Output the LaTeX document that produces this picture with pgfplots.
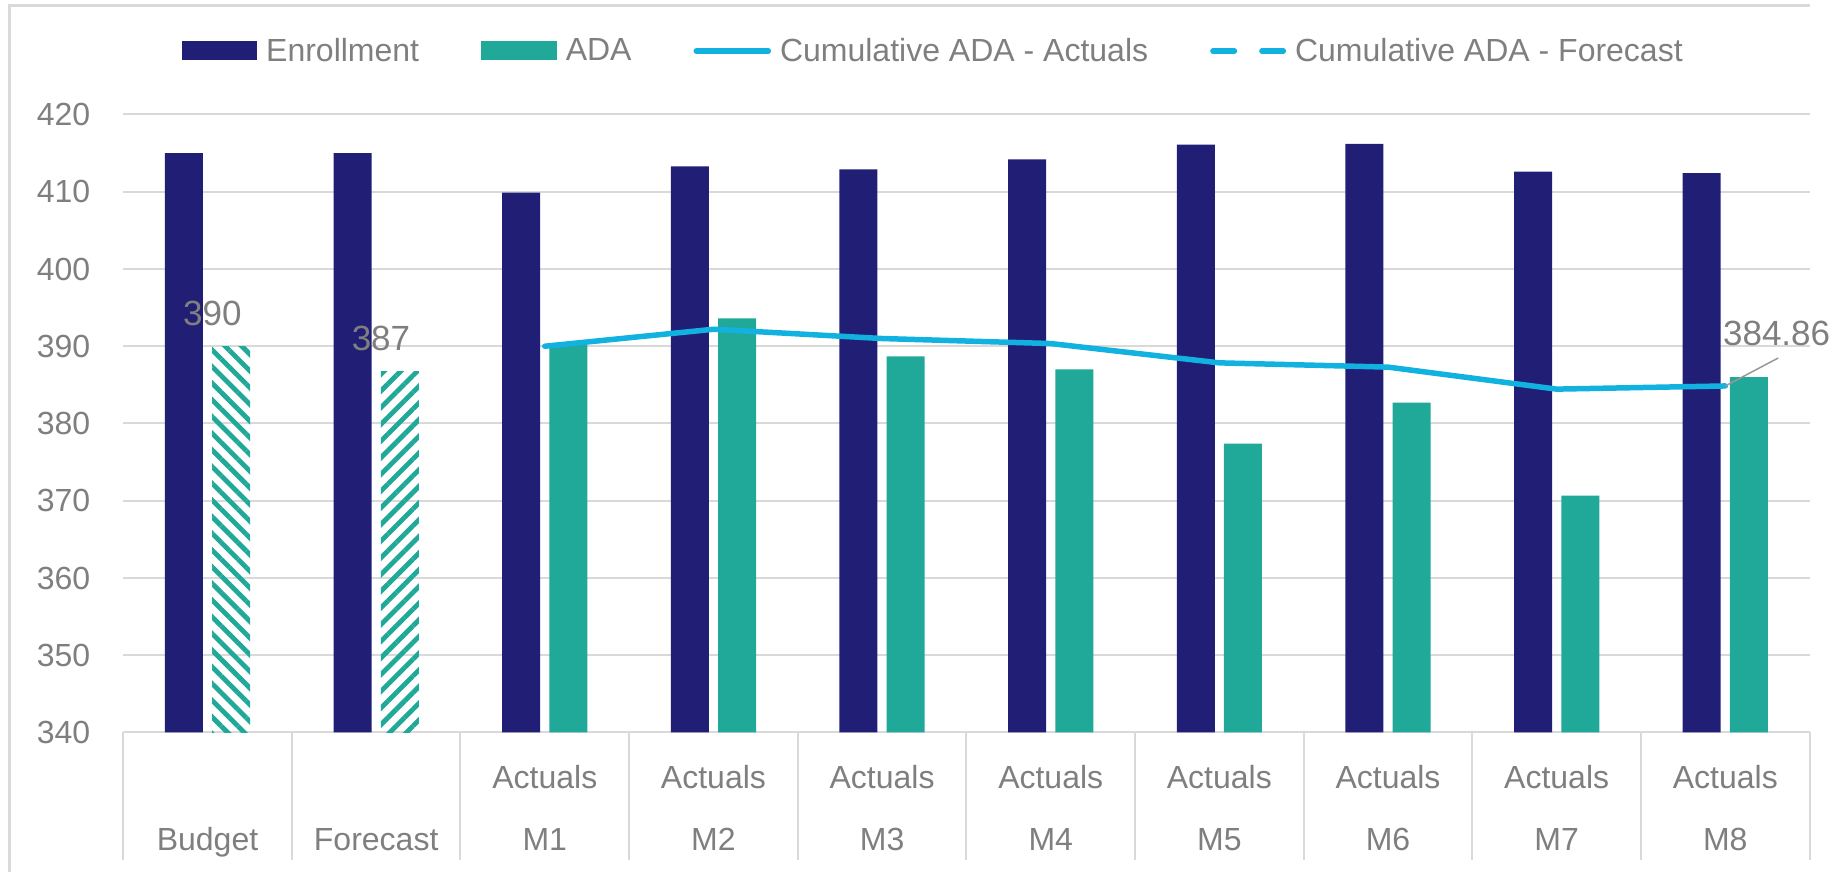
\documentclass[border=0pt]{standalone}
\usepackage{fontspec}
\setmainfont{Liberation Sans}
\usepackage{pgfplots}
\pgfplotsset{compat=1.18}
\usetikzlibrary{patterns.meta}

\definecolor{enrnavy}{HTML}{211F75}
\definecolor{adateal}{HTML}{20A898}
\definecolor{cumblue}{HTML}{12B2E0}
\definecolor{gridgray}{HTML}{D9D9D9}
\definecolor{txtgray}{HTML}{7F7F7F}

\begin{document}
\begin{tikzpicture}[font=\fontsize{16}{19}\selectfont]
\useasboundingbox (-61.6pt,-69.75pt) rectangle (854.4pt,366.25pt);
% chart frame
\draw[gridgray, line width=1.5pt] (-56.6pt,-80pt) -- (-56.6pt,363.25pt) -- (843.4pt,363.25pt);
\begin{axis}[
  at={(0pt,0pt)}, anchor=south west,
  scale only axis, width=843.2pt, height=309pt,
  xmin=-0.5, xmax=9.5, ymin=340, ymax=420,
  ytick={340,350,...,420},
  ymajorgrids, major grid style={gridgray, line width=1pt},
  axis line style={draw=none},
  ytick style={draw=none},
  major tick length=0pt,
  xtick={0,...,9}, xtick pos=left,
  xticklabels={{\strut\\Budget},{\strut\\Forecast},{\strut Actuals\\M1},{\strut Actuals\\M2},{\strut Actuals\\M3},{\strut Actuals\\M4},{\strut Actuals\\M5},{\strut Actuals\\M6},{\strut Actuals\\M7},{\strut Actuals\\M8}},
  xticklabel style={align=center, anchor=north, inner sep=0pt, yshift=-6.05pt,
    font=\fontsize{16}{31}\selectfont, text=txtgray},
  yticklabel style={anchor=east, inner sep=0pt, xshift=-16.25pt, text=txtgray},
  /pgf/number format/assume math mode=true,
  extra x ticks={-0.5,0.5,...,9.5},
  extra x tick style={major tick length=63.75pt, tick align=outside, xticklabel={},
    major tick style={draw=gridgray, line width=1pt}},
  clip mode=individual,
  legend columns=4,
  legend style={at={(0.4797,1)}, anchor=center, yshift=31.75pt, draw=none, fill=none,
    inner sep=0pt, outer sep=0pt, font=\fontsize{16}{19}\selectfont, text=txtgray,
    nodes={inner sep=0pt, text=txtgray},
    /tikz/every odd column/.append style={column sep=4.5pt},
    /tikz/every even column/.append style={column sep=31pt}},
]
% Enrollment
\addplot[ybar, bar width=19pt, bar shift=-11.8pt, fill=enrnavy, draw=none,
  legend image code/.code={\fill[enrnavy] (0pt,-4.75pt) rectangle (37.8pt,4.75pt);}]
  coordinates {(0,415.0) (1,415.0) (2,409.9) (3,413.3) (4,412.9) (5,414.2) (6,416.1) (7,416.2) (8,412.6) (9,412.4)};
\addlegendentry{Enrollment}
% ADA actuals
\addplot[ybar, bar width=19pt, bar shift=11.8pt, fill=adateal, draw=none,
  legend image code/.code={\fill[adateal] (0pt,-4.75pt) rectangle (37.8pt,4.75pt);}]
  coordinates {(2,390.2) (3,393.6) (4,388.7) (5,387.0) (6,377.4) (7,382.7) (8,370.65) (9,386.0)};
\addlegendentry{ADA}
% ADA budget and forecast (hatched)
\addplot[ybar, bar width=19pt, bar shift=11.8pt, draw=none, forget plot,
  pattern={Lines[angle=-45,distance=5.9pt,line width=2.4pt]}, pattern color=adateal,
  nodes near coords={\pgfmathprintnumber[fixed,precision=0]{\pgfplotspointmeta}},
  every node near coord/.append style={anchor=base, inner sep=0pt, yshift=10.5pt, xshift=2.4pt,
    text=txtgray, font=\fontsize{17.5}{20}\selectfont}]
  coordinates {(0,390.0)};
\addplot[ybar, bar width=19pt, bar shift=11.8pt, draw=none, forget plot,
  pattern={Lines[angle=45,distance=5.9pt,line width=2.4pt]}, pattern color=adateal,
  nodes near coords={\pgfmathprintnumber[fixed,precision=0]{\pgfplotspointmeta}},
  every node near coord/.append style={anchor=base, inner sep=0pt, yshift=10.5pt, xshift=2.4pt,
    text=txtgray, font=\fontsize{17.5}{20}\selectfont}]
  coordinates {(1,386.7)};
% Cumulative ADA - actuals
\addplot[cumblue, line width=2.75pt, line cap=round, line join=round, mark=none,
  legend image code/.code={\draw[cumblue, line width=2.75pt, line cap=round] (1.4pt,0pt) -- (37.4pt,0pt);}]
  coordinates {(2,390.0) (3,392.2) (4,391.0) (5,390.35) (6,387.85) (7,387.3) (8,384.45) (9,384.86)};
\addlegendentry{Cumulative ADA - Actuals}
% leader line and value of the last point
\addplot[txtgray!80, line width=0.75pt, forget plot] coordinates {(9,384.86) (9.314,388.48)};
\addplot[draw=none, mark=none, forget plot, nodes near coords, point meta=explicit symbolic,
  every node near coord/.append style={anchor=base west, inner sep=0pt, xshift=-1.3pt, yshift=20.15pt,
    text=txtgray, font=\fontsize{17.5}{20}\selectfont}]
  coordinates {(9,384.86) [384.86]};
% Cumulative ADA - forecast (legend only)
\addlegendimage{legend image code/.code={\draw[cumblue, line width=2.75pt, line cap=round, dash pattern=on 10.75pt off 13.75pt] (1.4pt,0pt) -- (36.6pt,0pt);}}
\addlegendentry{Cumulative ADA - Forecast}
\end{axis}
\end{tikzpicture}
\end{document}
